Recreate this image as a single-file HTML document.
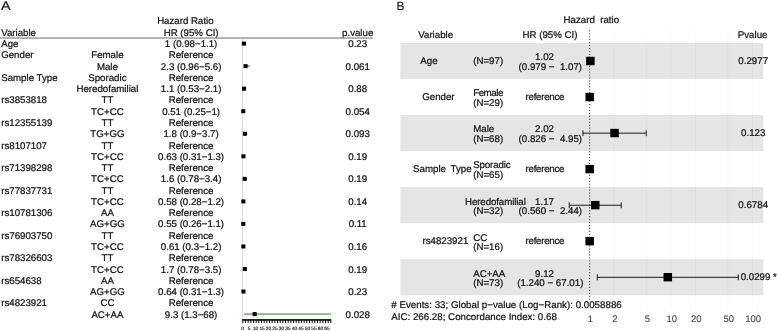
<!DOCTYPE html>
<html><head><meta charset="utf-8"><title>Forest plots</title>
<style>
html,body{margin:0;padding:0;background:#fff;}
body{width:777px;height:331px;overflow:hidden;}
svg{display:block;font-family:"Liberation Sans",sans-serif;font-size:9.7px;fill:#111;stroke:#111;stroke-width:0.22px;text-rendering:geometricPrecision;white-space:pre;}
</style></head><body>
<svg width="777" height="331" viewBox="0 0 777 331">
<text transform="translate(1.1,9.7) scale(1.16,1)" font-size="12.4">A</text>
<text x="185.40" y="23.80" text-anchor="middle">Hazard Ratio</text>
<text x="1.20" y="35.80">Variable</text>
<text x="191.10" y="35.80" text-anchor="middle">HR (95% CI)</text>
<text x="357.70" y="35.80" text-anchor="middle">p.value</text>
<rect stroke="none" x="0.00" y="37.40" width="372.80" height="1.30" fill="#8e8e8e"/>
<rect stroke="none" x="242.10" y="38.70" width="1.00" height="281.00" fill="#dadada"/>
<text x="1.20" y="47.10">Age</text>
<text x="191.10" y="47.10" text-anchor="middle">1 (0.98−1.1)</text>
<text x="357.70" y="47.10" text-anchor="middle">0.23</text>
<rect stroke="none" x="243.87" y="42.80" width="0.16" height="1.60" fill="#78ae70"/>
<rect stroke="none" x="241.85" y="41.60" width="4.10" height="4.00" fill="#000"/>
<text x="1.20" y="58.37">Gender</text>
<text x="107.40" y="58.37" text-anchor="middle">Female</text>
<text x="191.10" y="58.37" text-anchor="middle">Reference</text>
<text x="107.40" y="69.64" text-anchor="middle">Male</text>
<text x="191.10" y="69.64" text-anchor="middle">2.3 (0.96−5.6)</text>
<text x="357.70" y="69.64" text-anchor="middle">0.061</text>
<rect stroke="none" x="243.85" y="65.34" width="6.02" height="1.60" fill="#78ae70"/>
<rect stroke="none" x="243.53" y="64.14" width="4.10" height="4.00" fill="#000"/>
<text x="1.20" y="80.91">Sample Type</text>
<text x="107.40" y="80.91" text-anchor="middle">Sporadic</text>
<text x="191.10" y="80.91" text-anchor="middle">Reference</text>
<text x="107.40" y="92.18" text-anchor="middle">Heredofamilial</text>
<text x="191.10" y="92.18" text-anchor="middle">1.1 (0.53−2.1)</text>
<text x="357.70" y="92.18" text-anchor="middle">0.88</text>
<rect stroke="none" x="243.29" y="87.88" width="2.04" height="1.60" fill="#78ae70"/>
<rect stroke="none" x="241.98" y="86.68" width="4.10" height="4.00" fill="#000"/>
<text x="1.20" y="103.45">rs3853818</text>
<text x="107.40" y="103.45" text-anchor="middle">TT</text>
<text x="191.10" y="103.45" text-anchor="middle">Reference</text>
<text x="107.40" y="114.72" text-anchor="middle">TC+CC</text>
<text x="191.10" y="114.72" text-anchor="middle">0.51 (0.25−1)</text>
<text x="357.70" y="114.72" text-anchor="middle">0.054</text>
<rect stroke="none" x="242.92" y="110.42" width="0.97" height="1.60" fill="#78ae70"/>
<rect stroke="none" x="241.21" y="109.22" width="4.10" height="4.00" fill="#000"/>
<text x="1.20" y="125.99">rs12355139</text>
<text x="107.40" y="125.99" text-anchor="middle">TT</text>
<text x="191.10" y="125.99" text-anchor="middle">Reference</text>
<text x="107.40" y="137.26" text-anchor="middle">TG+GG</text>
<text x="191.10" y="137.26" text-anchor="middle">1.8 (0.9−3.7)</text>
<text x="357.70" y="137.26" text-anchor="middle">0.093</text>
<rect stroke="none" x="243.77" y="132.96" width="3.63" height="1.60" fill="#78ae70"/>
<rect stroke="none" x="242.88" y="131.76" width="4.10" height="4.00" fill="#000"/>
<text x="1.20" y="148.53">rs8107107</text>
<text x="107.40" y="148.53" text-anchor="middle">TT</text>
<text x="191.10" y="148.53" text-anchor="middle">Reference</text>
<text x="107.40" y="159.80" text-anchor="middle">TC+CC</text>
<text x="191.10" y="159.80" text-anchor="middle">0.63 (0.31−1.3)</text>
<text x="357.70" y="159.80" text-anchor="middle">0.19</text>
<rect stroke="none" x="243.00" y="155.50" width="1.28" height="1.60" fill="#78ae70"/>
<rect stroke="none" x="241.37" y="154.30" width="4.10" height="4.00" fill="#000"/>
<text x="1.20" y="171.07">rs71398298</text>
<text x="107.40" y="171.07" text-anchor="middle">TT</text>
<text x="191.10" y="171.07" text-anchor="middle">Reference</text>
<text x="107.40" y="182.34" text-anchor="middle">TC+CC</text>
<text x="191.10" y="182.34" text-anchor="middle">1.6 (0.78−3.4)</text>
<text x="357.70" y="182.34" text-anchor="middle">0.19</text>
<rect stroke="none" x="243.61" y="178.04" width="3.40" height="1.60" fill="#78ae70"/>
<rect stroke="none" x="242.63" y="176.84" width="4.10" height="4.00" fill="#000"/>
<text x="1.20" y="193.61">rs77837731</text>
<text x="107.40" y="193.61" text-anchor="middle">TT</text>
<text x="191.10" y="193.61" text-anchor="middle">Reference</text>
<text x="107.40" y="204.88" text-anchor="middle">TC+CC</text>
<text x="191.10" y="204.88" text-anchor="middle">0.58 (0.28−1.2)</text>
<text x="357.70" y="204.88" text-anchor="middle">0.14</text>
<rect stroke="none" x="242.96" y="200.58" width="1.19" height="1.60" fill="#78ae70"/>
<rect stroke="none" x="241.30" y="199.38" width="4.10" height="4.00" fill="#000"/>
<text x="1.20" y="216.15">rs10781306</text>
<text x="107.40" y="216.15" text-anchor="middle">AA</text>
<text x="191.10" y="216.15" text-anchor="middle">Reference</text>
<text x="107.40" y="227.42" text-anchor="middle">AG+GG</text>
<text x="191.10" y="227.42" text-anchor="middle">0.55 (0.26−1.1)</text>
<text x="357.70" y="227.42" text-anchor="middle">0.11</text>
<rect stroke="none" x="242.94" y="223.12" width="1.09" height="1.60" fill="#78ae70"/>
<rect stroke="none" x="241.26" y="221.92" width="4.10" height="4.00" fill="#000"/>
<text x="1.20" y="238.69">rs76903750</text>
<text x="107.40" y="238.69" text-anchor="middle">TT</text>
<text x="191.10" y="238.69" text-anchor="middle">Reference</text>
<text x="107.40" y="249.96" text-anchor="middle">TC+CC</text>
<text x="191.10" y="249.96" text-anchor="middle">0.61 (0.3−1.2)</text>
<text x="357.70" y="249.96" text-anchor="middle">0.16</text>
<rect stroke="none" x="242.99" y="245.66" width="1.17" height="1.60" fill="#78ae70"/>
<rect stroke="none" x="241.34" y="244.46" width="4.10" height="4.00" fill="#000"/>
<text x="1.20" y="261.23">rs78326603</text>
<text x="107.40" y="261.23" text-anchor="middle">TT</text>
<text x="191.10" y="261.23" text-anchor="middle">Reference</text>
<text x="107.40" y="272.50" text-anchor="middle">TC+CC</text>
<text x="191.10" y="272.50" text-anchor="middle">1.7 (0.78−3.5)</text>
<text x="357.70" y="272.50" text-anchor="middle">0.19</text>
<rect stroke="none" x="243.61" y="268.20" width="3.53" height="1.60" fill="#78ae70"/>
<rect stroke="none" x="242.75" y="267.00" width="4.10" height="4.00" fill="#000"/>
<text x="1.20" y="283.77">rs654638</text>
<text x="107.40" y="283.77" text-anchor="middle">AA</text>
<text x="191.10" y="283.77" text-anchor="middle">Reference</text>
<text x="107.40" y="295.04" text-anchor="middle">AG+GG</text>
<text x="191.10" y="295.04" text-anchor="middle">0.64 (0.31−1.3)</text>
<text x="357.70" y="295.04" text-anchor="middle">0.23</text>
<rect stroke="none" x="243.00" y="290.74" width="1.28" height="1.60" fill="#78ae70"/>
<rect stroke="none" x="241.38" y="289.54" width="4.10" height="4.00" fill="#000"/>
<text x="1.20" y="306.31">rs4823921</text>
<text x="107.40" y="306.31" text-anchor="middle">CC</text>
<text x="191.10" y="306.31" text-anchor="middle">Reference</text>
<text x="107.40" y="317.58" text-anchor="middle">AC+AA</text>
<text x="191.10" y="317.58" text-anchor="middle">9.3 (1.3−68)</text>
<text x="357.70" y="317.58" text-anchor="middle">0.028</text>
<rect stroke="none" x="244.29" y="313.28" width="86.51" height="1.60" fill="#78ae70"/>
<rect stroke="none" x="252.61" y="312.08" width="4.10" height="4.00" fill="#000"/>
<rect stroke="none" x="242.20" y="319.20" width="88.60" height="1.50" fill="#000"/>
<rect stroke="none" x="242.30" y="319.20" width="1.00" height="3.90" fill="#000"/>
<rect stroke="none" x="244.97" y="319.20" width="1.00" height="3.90" fill="#000"/>
<rect stroke="none" x="247.63" y="319.20" width="1.00" height="3.90" fill="#000"/>
<rect stroke="none" x="250.30" y="319.20" width="1.00" height="3.90" fill="#000"/>
<rect stroke="none" x="252.97" y="319.20" width="1.00" height="3.90" fill="#000"/>
<rect stroke="none" x="255.63" y="319.20" width="1.00" height="3.90" fill="#000"/>
<rect stroke="none" x="258.30" y="319.20" width="1.00" height="3.90" fill="#000"/>
<rect stroke="none" x="260.97" y="319.20" width="1.00" height="3.90" fill="#000"/>
<rect stroke="none" x="263.64" y="319.20" width="1.00" height="3.90" fill="#000"/>
<rect stroke="none" x="266.30" y="319.20" width="1.00" height="3.90" fill="#000"/>
<rect stroke="none" x="268.97" y="319.20" width="1.00" height="3.90" fill="#000"/>
<rect stroke="none" x="271.64" y="319.20" width="1.00" height="3.90" fill="#000"/>
<rect stroke="none" x="274.30" y="319.20" width="1.00" height="3.90" fill="#000"/>
<rect stroke="none" x="276.97" y="319.20" width="1.00" height="3.90" fill="#000"/>
<rect stroke="none" x="279.64" y="319.20" width="1.00" height="3.90" fill="#000"/>
<rect stroke="none" x="282.30" y="319.20" width="1.00" height="3.90" fill="#000"/>
<rect stroke="none" x="284.97" y="319.20" width="1.00" height="3.90" fill="#000"/>
<rect stroke="none" x="287.64" y="319.20" width="1.00" height="3.90" fill="#000"/>
<rect stroke="none" x="290.31" y="319.20" width="1.00" height="3.90" fill="#000"/>
<rect stroke="none" x="292.97" y="319.20" width="1.00" height="3.90" fill="#000"/>
<rect stroke="none" x="295.64" y="319.20" width="1.00" height="3.90" fill="#000"/>
<rect stroke="none" x="298.31" y="319.20" width="1.00" height="3.90" fill="#000"/>
<rect stroke="none" x="300.97" y="319.20" width="1.00" height="3.90" fill="#000"/>
<rect stroke="none" x="303.64" y="319.20" width="1.00" height="3.90" fill="#000"/>
<rect stroke="none" x="306.31" y="319.20" width="1.00" height="3.90" fill="#000"/>
<rect stroke="none" x="308.97" y="319.20" width="1.00" height="3.90" fill="#000"/>
<rect stroke="none" x="311.64" y="319.20" width="1.00" height="3.90" fill="#000"/>
<rect stroke="none" x="314.31" y="319.20" width="1.00" height="3.90" fill="#000"/>
<rect stroke="none" x="316.98" y="319.20" width="1.00" height="3.90" fill="#000"/>
<rect stroke="none" x="319.64" y="319.20" width="1.00" height="3.90" fill="#000"/>
<rect stroke="none" x="322.31" y="319.20" width="1.00" height="3.90" fill="#000"/>
<rect stroke="none" x="324.98" y="319.20" width="1.00" height="3.90" fill="#000"/>
<rect stroke="none" x="327.64" y="319.20" width="1.00" height="3.90" fill="#000"/>
<rect stroke="none" x="330.31" y="319.20" width="1.00" height="3.90" fill="#000"/>
<text x="242.60" y="330.30" text-anchor="middle" font-size="4.8" stroke-width="0.12" fill="#000">0</text>
<text x="249.08" y="330.30" text-anchor="middle" font-size="4.8" stroke-width="0.12" fill="#000">5</text>
<text x="255.57" y="330.30" text-anchor="middle" font-size="4.8" stroke-width="0.12" fill="#000">10</text>
<text x="262.06" y="330.30" text-anchor="middle" font-size="4.8" stroke-width="0.12" fill="#000">15</text>
<text x="268.54" y="330.30" text-anchor="middle" font-size="4.8" stroke-width="0.12" fill="#000">20</text>
<text x="275.02" y="330.30" text-anchor="middle" font-size="4.8" stroke-width="0.12" fill="#000">25</text>
<text x="281.51" y="330.30" text-anchor="middle" font-size="4.8" stroke-width="0.12" fill="#000">30</text>
<text x="288.00" y="330.30" text-anchor="middle" font-size="4.8" stroke-width="0.12" fill="#000">35</text>
<text x="294.48" y="330.30" text-anchor="middle" font-size="4.8" stroke-width="0.12" fill="#000">40</text>
<text x="300.96" y="330.30" text-anchor="middle" font-size="4.8" stroke-width="0.12" fill="#000">45</text>
<text x="307.45" y="330.30" text-anchor="middle" font-size="4.8" stroke-width="0.12" fill="#000">50</text>
<text x="313.94" y="330.30" text-anchor="middle" font-size="4.8" stroke-width="0.12" fill="#000">55</text>
<text x="320.42" y="330.30" text-anchor="middle" font-size="4.8" stroke-width="0.12" fill="#000">60</text>
<text x="326.90" y="330.30" text-anchor="middle" font-size="4.8" stroke-width="0.12" fill="#000">65</text>
<text x="396.4" y="9.7" font-size="11.9" stroke-width="0.1">B</text>
<rect stroke="none" x="400.40" y="42.95" width="362.90" height="36.04" fill="#e5e5e5"/>
<rect stroke="none" x="400.40" y="115.03" width="362.90" height="36.04" fill="#e5e5e5"/>
<rect stroke="none" x="400.40" y="187.11" width="362.90" height="36.04" fill="#e5e5e5"/>
<rect stroke="none" x="400.40" y="259.19" width="362.90" height="36.04" fill="#e5e5e5"/>
<rect stroke="none" x="613.69" y="30.00" width="1.00" height="280.00" fill="rgba(0,0,0,0.028)"/>
<rect stroke="none" x="646.06" y="30.00" width="1.00" height="280.00" fill="rgba(0,0,0,0.028)"/>
<rect stroke="none" x="670.55" y="30.00" width="1.00" height="280.00" fill="rgba(0,0,0,0.028)"/>
<rect stroke="none" x="695.04" y="30.00" width="1.00" height="280.00" fill="rgba(0,0,0,0.028)"/>
<rect stroke="none" x="727.41" y="30.00" width="1.00" height="280.00" fill="rgba(0,0,0,0.028)"/>
<rect stroke="none" x="751.90" y="30.00" width="1.00" height="280.00" fill="rgba(0,0,0,0.028)"/>
<text x="591.30" y="22.80" text-anchor="middle" font-size="9.72">Hazard  ratio</text>
<text x="435.70" y="38.00" text-anchor="middle" font-size="9.72">Variable</text>
<text x="550.00" y="38.00" text-anchor="middle" font-size="9.72">HR (95% CI)</text>
<text x="752.60" y="38.00" text-anchor="middle" font-size="9.72">Pvalue</text>
<line x1="589.70" y1="30.3" x2="589.70" y2="300" stroke="#222" stroke-width="1" stroke-dasharray="1 1.95"/>
<text x="420.30" y="63.77" font-size="9.72">Age</text>
<text x="473.20" y="63.77" font-size="9.72">(N=97)</text>
<text x="544.50" y="60.37" text-anchor="middle" font-size="9.72">1.02</text>
<text x="550.30" y="69.87" text-anchor="middle" font-size="9.72">(0.979 −  1.07)</text>
<text x="753.20" y="63.77" text-anchor="middle" font-size="9.72">0.2977</text>
<rect stroke="none" x="588.95" y="60.57" width="3.14" height="1.00" fill="#1c1c1c"/>
<rect stroke="none" x="588.45" y="58.17" width="1.00" height="5.90" fill="#1c1c1c"/>
<rect stroke="none" x="591.59" y="58.17" width="1.00" height="5.90" fill="#1c1c1c"/>
<rect stroke="none" x="586.15" y="56.77" width="8.50" height="8.40" fill="#000"/>
<text x="422.20" y="99.81" font-size="9.72">Gender</text>
<text x="473.20" y="96.41" font-size="9.72" textLength="30.1" lengthAdjust="spacing">Female</text>
<text x="473.20" y="105.91" font-size="9.72">(N=29)</text>
<text x="545.00" y="99.81" text-anchor="middle" font-size="9.72" textLength="38.9" lengthAdjust="spacing">reference</text>
<rect stroke="none" x="585.45" y="92.81" width="8.50" height="8.40" fill="#000"/>
<text x="473.20" y="132.45" font-size="9.72">Male</text>
<text x="473.20" y="141.95" font-size="9.72">(N=68)</text>
<text x="544.50" y="132.45" text-anchor="middle" font-size="9.72">2.02</text>
<text x="550.30" y="141.95" text-anchor="middle" font-size="9.72">(0.826 −  4.95)</text>
<text x="753.20" y="135.85" text-anchor="middle" font-size="9.72">0.123</text>
<rect stroke="none" x="582.95" y="132.65" width="63.26" height="1.00" fill="#1c1c1c"/>
<rect stroke="none" x="582.45" y="130.25" width="1.00" height="5.90" fill="#1c1c1c"/>
<rect stroke="none" x="645.71" y="130.25" width="1.00" height="5.90" fill="#1c1c1c"/>
<rect stroke="none" x="610.29" y="128.85" width="8.50" height="8.40" fill="#000"/>
<text x="413.00" y="171.89" font-size="9.72">Sample</text>
<text x="450.50" y="171.89" font-size="9.72">Type</text>
<text x="473.20" y="168.49" font-size="9.72" textLength="37.5" lengthAdjust="spacing">Sporadic</text>
<text x="473.20" y="177.99" font-size="9.72">(N=65)</text>
<text x="545.00" y="171.89" text-anchor="middle" font-size="9.72" textLength="38.9" lengthAdjust="spacing">reference</text>
<rect stroke="none" x="585.45" y="164.89" width="8.50" height="8.40" fill="#000"/>
<text x="465.00" y="204.53" font-size="9.72" textLength="60.8" lengthAdjust="spacing">Heredofamilial</text>
<text x="473.20" y="214.03" font-size="9.72">(N=32)</text>
<text x="544.50" y="204.53" text-anchor="middle" font-size="9.72">1.17</text>
<text x="550.30" y="214.03" text-anchor="middle" font-size="9.72">(0.560 −  2.44)</text>
<text x="753.20" y="207.93" text-anchor="middle" font-size="9.72">0.6784</text>
<rect stroke="none" x="569.22" y="204.73" width="52.00" height="1.00" fill="#1c1c1c"/>
<rect stroke="none" x="568.72" y="202.33" width="1.00" height="5.90" fill="#1c1c1c"/>
<rect stroke="none" x="620.71" y="202.33" width="1.00" height="5.90" fill="#1c1c1c"/>
<rect stroke="none" x="591.00" y="200.93" width="8.50" height="8.40" fill="#000"/>
<text x="422.40" y="243.97" font-size="9.72">rs4823921</text>
<text x="473.20" y="240.57" font-size="9.72">CC</text>
<text x="473.20" y="250.07" font-size="9.72">(N=16)</text>
<text x="545.00" y="243.97" text-anchor="middle" font-size="9.72" textLength="38.9" lengthAdjust="spacing">reference</text>
<rect stroke="none" x="585.45" y="236.97" width="8.50" height="8.40" fill="#000"/>
<text x="473.20" y="276.61" font-size="9.72">AC+AA</text>
<text x="473.20" y="286.11" font-size="9.72">(N=73)</text>
<text x="544.50" y="276.61" text-anchor="middle" font-size="9.72">9.12</text>
<text x="550.30" y="286.11" text-anchor="middle" font-size="9.72">(1.240 − 67.01)</text>
<text x="740.70" y="280.01" font-size="9.72">0.0299 *</text>
<rect stroke="none" x="597.30" y="276.81" width="140.96" height="1.00" fill="#1c1c1c"/>
<rect stroke="none" x="596.80" y="274.41" width="1.00" height="5.90" fill="#1c1c1c"/>
<rect stroke="none" x="737.76" y="274.41" width="1.00" height="5.90" fill="#1c1c1c"/>
<rect stroke="none" x="663.55" y="273.01" width="8.50" height="8.40" fill="#000"/>
<text x="391.30" y="308.00" font-size="9.72" textLength="230.4" lengthAdjust="spacing"># Events: 33; Global p−value (Log−Rank): 0.0058886</text>
<text x="391.30" y="319.60" font-size="9.72" textLength="165.5" lengthAdjust="spacing">AIC: 266.28; Concordance Index: 0.68</text>
<text x="590.50" y="321.60" text-anchor="middle" font-size="9.5" fill="#4d4d4d" stroke="#4d4d4d" stroke-width="0.15">1</text>
<text x="614.99" y="321.60" text-anchor="middle" font-size="9.5" fill="#4d4d4d" stroke="#4d4d4d" stroke-width="0.15">2</text>
<text x="647.36" y="321.60" text-anchor="middle" font-size="9.5" fill="#4d4d4d" stroke="#4d4d4d" stroke-width="0.15">5</text>
<text x="671.85" y="321.60" text-anchor="middle" font-size="9.5" fill="#4d4d4d" stroke="#4d4d4d" stroke-width="0.15">10</text>
<text x="696.34" y="321.60" text-anchor="middle" font-size="9.5" fill="#4d4d4d" stroke="#4d4d4d" stroke-width="0.15">20</text>
<text x="728.71" y="321.60" text-anchor="middle" font-size="9.5" fill="#4d4d4d" stroke="#4d4d4d" stroke-width="0.15">50</text>
<text x="753.20" y="321.60" text-anchor="middle" font-size="9.5" fill="#4d4d4d" stroke="#4d4d4d" stroke-width="0.15">100</text>
</svg>
</body></html>
